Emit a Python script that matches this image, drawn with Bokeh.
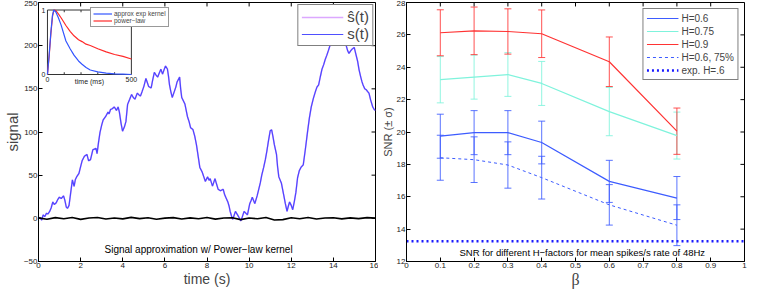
import numpy as np
from bokeh.plotting import figure
from bokeh.models import (Range1d, FixedTicker, Legend, LegendItem, Label,
                          Whisker, TeeHead, ColumnDataSource)
from bokeh.layouts import row
from bokeh.core.properties import value
from bokeh.embed import file_html
from bokeh.resources import INLINE

FONT = "Liberation Sans"

# ---------------- left panel data ----------------
time_s = [0.0, 0.07, 0.15, 0.22, 0.3, 0.38, 0.45, 0.53, 0.6, 0.68, 0.75, 0.84, 0.92, 0.99, 1.08, 1.19,
          1.25, 1.32, 1.38, 1.45, 1.52, 1.61, 1.69, 1.75, 1.81, 1.92, 2.0, 2.07, 2.18, 2.3, 2.38, 2.47,
          2.58, 2.73, 2.78, 2.85, 2.92, 3.0, 3.07, 3.19, 3.3, 3.35, 3.42, 3.5, 3.6, 3.7, 3.78, 3.84,
          3.92, 3.99, 4.08, 4.15, 4.23, 4.33, 4.42, 4.5, 4.58, 4.69, 4.77, 4.84, 4.92, 5.0, 5.1, 5.17,
          5.23, 5.35, 5.42, 5.5, 5.58, 5.66, 5.73, 5.81, 5.89, 5.96, 6.03, 6.12, 6.17, 6.22, 6.29, 6.35,
          6.45, 6.52, 6.58, 6.7, 6.75, 6.8, 6.95, 7.07, 7.15, 7.22, 7.33, 7.42, 7.5, 7.58, 7.66, 7.77,
          7.85, 7.92, 8.03, 8.1, 8.15, 8.26, 8.38, 8.45, 8.53, 8.64, 8.77, 8.83, 8.89, 8.99, 9.05, 9.1,
          9.16, 9.22, 9.28, 9.35, 9.45, 9.52, 9.61, 9.68, 9.76, 9.84, 9.92, 10.03, 10.1, 10.15, 10.27,
          10.38, 10.45, 10.53, 10.6, 10.69, 10.77, 10.84, 10.92, 11.0, 11.07, 11.13, 11.2, 11.3, 11.35,
          11.41, 11.53, 11.65, 11.72, 11.8, 11.86, 11.92, 12.0, 12.07, 12.15, 12.22, 12.3, 12.38, 12.46,
          12.57, 12.67, 12.77, 12.86, 12.95, 13.05, 13.15, 13.22, 13.3, 13.38, 13.46, 13.54, 13.61,
          13.69, 13.77, 13.85, 13.92, 14.0, 14.07, 14.15, 14.22, 14.3, 14.38, 14.46, 14.54, 14.61,
          14.68, 14.74, 14.82, 14.89, 14.99, 15.07, 15.15, 15.22, 15.3, 15.36, 15.41, 15.49, 15.56,
          15.62, 15.69, 15.77, 15.87, 15.94, 16.0]
signal = [0, 1, -2, 4, 2, 6, 5, 8, 12, 19, 16, 18, 22, 24.5, 23, 26,
          21, 13, 11.6, 15, 28, 44.6, 37, 45, 48, 52, 60, 66.6, 72, 74, 66.6, 68,
          79.4, 81, 75, 88, 99.6, 108, 114, 118, 123, 121, 126, 127, 129, 125, 129, 123,
          110, 101, 106, 112, 132, 138, 143.5, 140, 138, 145, 143, 141.6, 147, 152.6, 162, 157,
          152.6, 151, 160, 169, 166, 163.6, 168, 172.8, 167, 172, 176.5, 173, 165, 154.5, 146, 140,
          147, 152, 158, 163.6, 150, 140, 132.5, 118, 112, 105, 103, 95, 85, 72, 59, 53.7,
          48, 42.8, 48, 44, 46, 37.3, 46, 40, 33.6, 32, 33.6, 28, 24.5, 19, 14, 8,
          3, -1.2, 3, 8, 4, 1, -3, 2, 8, 6, 4, 17, 21, 24.5, 17,
          26, 33, 41, 50, 59, 68, 77.6, 90, 101.4, 102.5, 95, 85, 74, 60,
          48, 41, 26, 17, 8, 14, 19, 15, 10, 20, 30, 47, 55, 59,
          62, 80, 99.6, 116, 129, 139, 147, 152, 154.5, 164, 172.8, 178, 183.8,
          189, 194.8, 201, 207.6, 212, 215, 213, 207, 209, 205, 202, 203, 200,
          194, 191, 194, 196, 198, 190, 182, 172, 163.6, 158, 154.5, 150, 149,
          147, 145, 137, 129, 126, 125]
signal_hat = signal  # approximation is visually indistinguishable

resid_t = [0.0, 0.4, 0.8, 1.2, 1.6, 2.0, 2.4, 2.8, 3.2, 3.6, 4.0, 4.4, 4.8, 5.2, 5.6, 6.0, 6.4,
           6.8, 7.2, 7.6, 8.0, 8.4, 8.8, 9.2, 9.6, 10.0, 10.4, 10.8, 11.2, 11.6, 12.0, 12.4, 12.8,
           13.2, 13.6, 14.0, 14.4, 14.8, 15.2, 15.6, 16.0]
resid = [0.5, -1, 0.8, -0.5, 1, -1.2, 0.3, 0.9, -0.8, 0.4, -0.6, 1.1, -0.3, 0.6, -1, 0.2, 0.8,
         -0.7, 0.5, -0.4, 1, -0.9, 0.3, 0.7, -1.5, 0.4, -0.5, 0.9, -2, -1.5, 0.6, -0.4, 1,
         -0.8, 0.3, 0.7, -0.6, 0.5, -0.3, 0.8, 0.2]

x_lim_l = [0, 16]
y_lim_l = [-50, 250]
x_ticks_l = [0, 2, 4, 6, 8, 10, 12, 14, 16]
y_ticks_l = [-50, 0, 50, 100, 150, 200, 250]

# inset (kernels)
kernel_t = [0, 10, 20, 30, 38, 50, 65, 81, 110, 135, 158, 185, 206, 230, 255, 300, 350, 400, 450, 500]
kernel_exp = [0, 0.3, 0.65, 0.92, 1.0, 0.97, 0.88, 0.77, 0.52, 0.4, 0.3, 0.21, 0.16, 0.11, 0.07,
              0.04, 0.02, 0.01, 0.005, 0.0]
kernel_pow = [0, 0.28, 0.62, 0.9, 1.0, 0.99, 0.94, 0.88, 0.76, 0.67, 0.6, 0.54, 0.51, 0.47, 0.45,
              0.4, 0.35, 0.31, 0.28, 0.24]
inset_xlim = [0, 500]
inset_ylim = [0, 1]
inset_xticks = [100, 200, 300, 400]

# ---------------- right panel data ----------------
beta = [0.1, 0.2, 0.3, 0.4, 0.6, 0.8]
snr_h06 = [19.74, 19.96, 19.96, 19.35, 16.95, 15.92]
err_h06 = [1.36, 1.36, 1.36, 1.32, 1.30, 1.33]
snr_h075 = [23.23, 23.39, 23.55, 23.0, 21.26, 19.78]
err_h075 = [1.43, 1.36, 1.35, 1.36, 1.49, 1.45]
snr_h09 = [26.13, 26.25, 26.21, 26.07, 24.34, 20.05]
err_h09 = [1.42, 1.47, 1.40, 1.47, 1.53, 1.43]
snr_h06_75 = [18.41, 18.29, 17.96, 17.18, 15.5, 14.24]
err_h06_75 = [1.39, 1.41, 1.43, 1.32, 1.25, 1.26]
snr_exp = 13.25
beta_lim = [0, 1]
snr_lim = [12, 28]
x_ticks_r = [0, 0.1, 0.2, 0.3, 0.4, 0.5, 0.6, 0.7, 0.8, 0.9, 1]
x_labels_r = ["0", "0.1", "0.2", "0.3", "0.4", "0.5", "0.6", "0.7", "0.8", "0.9", "1"]
y_ticks_r = [12, 14, 16, 18, 20, 22, 24, 26, 28]


def style_axes(p, xt, yt):
    p.outline_line_color = "black"
    p.outline_line_width = 1
    p.xgrid.visible = False
    p.ygrid.visible = False
    p.background_fill_color = "white"
    p.border_fill_color = "white"
    for ax, t in ((p.xaxis[0], xt), (p.yaxis[0], yt)):
        ax.ticker = FixedTicker(ticks=t)
        ax.major_tick_in = 4
        ax.major_tick_out = 0
        ax.minor_tick_line_color = None
        ax.axis_line_color = "black"
        ax.major_tick_line_color = "black"
        ax.major_label_text_font = FONT
        ax.major_label_text_font_size = "8px"
        ax.major_label_text_color = "#222222"
        ax.major_label_standoff = 1
        ax.axis_label_text_font = FONT
        ax.axis_label_text_font_style = "normal"
        ax.axis_label_standoff = 0


def box_ticks(p, xt, yt, xl, yl, fw, fh, L=4):
    # inward ticks on the top and right edges (MATLAB "box on")
    dx = (xl[1] - xl[0]) / fw * L
    dy = (yl[1] - yl[0]) / fh * L
    p.segment(x0=xt, y0=[yl[1]] * len(xt), x1=xt, y1=[yl[1] - dy] * len(xt),
              line_color="black", line_width=1)
    p.segment(x0=[xl[1]] * len(yt), y0=yt, x1=[xl[1] - dx] * len(yt), y1=yt,
              line_color="black", line_width=1)


# ---------------- left figure ----------------
pl = figure(width=378, height=290, output_backend="svg", toolbar_location=None,
            x_range=Range1d(*x_lim_l), y_range=Range1d(*y_lim_l),
            min_border_left=20, min_border_right=3, min_border_top=2, min_border_bottom=20)
style_axes(pl, x_ticks_l, y_ticks_l)
pl.xaxis[0].axis_label = "time (s)"
pl.yaxis[0].axis_label = "signal"
pl.xaxis[0].axis_label_text_font_size = "14px"
pl.yaxis[0].axis_label_text_font_size = "15px"
pl.yaxis[0].major_label_overrides = {-50: "\u221250"}
box_ticks(pl, x_ticks_l, y_ticks_l, x_lim_l, y_lim_l, 341, 262)

r_hat = pl.line(time_s, signal_hat, line_color="#c060ff", line_width=1.6, line_alpha=0.55)
r_s = pl.line(time_s, signal, line_color="#3c3cff", line_width=1.2, line_alpha=0.9)
pl.line(resid_t, resid, line_color="black", line_width=1.6)

pl.add_layout(Label(x=7.6, y=-36, text="Signal approximation w/ Power\u2212law kernel",
                    text_align="center", text_baseline="middle", text_font=FONT,
                    text_font_size="10px", text_color="black"))

# inset: placed via extra ranges so that its data occupies a sub-rectangle of the frame
INSET_FX = (0.0266, 0.2756)
INSET_FY = (0.722, 0.971)
sx = (inset_xlim[1] - inset_xlim[0]) / (INSET_FX[1] - INSET_FX[0])
sy = (inset_ylim[1] - inset_ylim[0]) / (INSET_FY[1] - INSET_FY[0])
pl.extra_x_ranges = {"ix": Range1d(inset_xlim[0] - INSET_FX[0] * sx,
                                   inset_xlim[0] + (1 - INSET_FX[0]) * sx)}
pl.extra_y_ranges = {"iy": Range1d(inset_ylim[0] - INSET_FY[0] * sy,
                                   inset_ylim[0] + (1 - INSET_FY[0]) * sy)}
kw = dict(x_range_name="ix", y_range_name="iy")
pl.quad(left=[inset_xlim[0]], right=[inset_xlim[1]], bottom=[inset_ylim[0]], top=[inset_ylim[1]],
        fill_color="white", line_color="#333333", line_width=1, **kw)
pl.segment(x0=inset_xticks, y0=[inset_ylim[0]] * 4, x1=inset_xticks, y1=[inset_ylim[0] + 0.035] * 4,
           line_color="#333333", **kw)
pl.segment(x0=inset_xticks, y0=[inset_ylim[1]] * 4, x1=inset_xticks, y1=[inset_ylim[1] - 0.035] * 4,
           line_color="#333333", **kw)
r_pow = pl.line(kernel_t, kernel_pow, line_color="#ff2a2a", line_width=1.2, **kw)
r_exp = pl.line(kernel_t, kernel_exp, line_color="#3355ff", line_width=1.2, **kw)
pl.text(x=inset_xlim, y=[inset_ylim[0]] * 2, text=["0", "500"], text_align="center",
        text_baseline="top", y_offset=2, text_font=value(FONT), text_font_size="7px",
        text_color="#222222", **kw)
pl.text(x=[inset_xlim[0]] * 2, y=inset_ylim, text=["0", "1"], text_align="right",
        text_baseline="middle", x_offset=-2, text_font=value(FONT), text_font_size="7px",
        text_color="#222222", **kw)
pl.text(x=[sum(inset_xlim) / 2], y=[inset_ylim[0]], text=["time (ms)"], text_align="center",
        text_baseline="top", y_offset=3, text_font=value(FONT), text_font_size="7px",
        text_color="#222222", **kw)

inset_leg = Legend(items=[LegendItem(label="approx exp kernel", renderers=[r_exp]),
                          LegendItem(label="power\u2212law", renderers=[r_pow])],
                   location=(52, 234), label_text_font=FONT, label_text_font_size="6.5px",
                   label_height=7, glyph_height=7, glyph_width=19, spacing=0, padding=2,
                   margin=0, label_standoff=2, border_line_color="#333333",
                   background_fill_alpha=1.0)
pl.add_layout(inset_leg, "center")

main_leg = Legend(items=[LegendItem(label="\u015d(t)", renderers=[r_hat]),
                         LegendItem(label="s(t)", renderers=[r_s])],
                  location="top_right", label_text_font=FONT, label_text_font_size="15px",
                  label_height=16, glyph_height=16, glyph_width=42, spacing=0, padding=3,
                  margin=2, label_standoff=4, border_line_color="black",
                  background_fill_alpha=1.0)
pl.add_layout(main_leg, "center")

# ---------------- right figure ----------------
pr = figure(width=369, height=290, output_backend="svg", toolbar_location=None,
            x_range=Range1d(*beta_lim), y_range=Range1d(*snr_lim),
            min_border_left=20, min_border_right=3, min_border_top=2, min_border_bottom=20)
style_axes(pr, x_ticks_r, y_ticks_r)
pr.xaxis[0].major_label_overrides = {t: l for t, l in zip(x_ticks_r, x_labels_r)}
pr.xaxis[0].axis_label = "\u03b2"
pr.xaxis[0].axis_label_text_font = "Liberation Serif"
pr.xaxis[0].axis_label_text_font_size = "16px"
pr.yaxis[0].axis_label = "SNR (\u00b1 \u03c3)"
pr.yaxis[0].axis_label_text_font_size = "11px"
box_ticks(pr, x_ticks_r, y_ticks_r, beta_lim, snr_lim, 334, 262)

C_BLUE = "#3d5cff"
C_CYAN = "#7ff3dc"
C_RED = "#ff3333"
series = [("H=0.6", snr_h06, err_h06, C_BLUE, None),
          ("H=0.75", snr_h075, err_h075, C_CYAN, None),
          ("H=0.9", snr_h09, err_h09, C_RED, None),
          ("H=0.6, 75%", snr_h06_75, err_h06_75, C_BLUE, "3 3")]
items = []
for name, y, e, c, dash in series:
    y = np.array(y)
    e = np.array(e)
    src = ColumnDataSource(dict(b=beta, y=y, up=y + e, lo=y - e))
    pr.add_layout(Whisker(source=src, base="b", upper="up", lower="lo", line_color=c,
                          line_width=1, line_alpha=0.85,
                          upper_head=TeeHead(size=7, line_color=c, line_alpha=0.85),
                          lower_head=TeeHead(size=7, line_color=c, line_alpha=0.85)))
    if dash:
        r = pr.line("b", "y", source=src, line_color=c, line_width=1, line_dash=dash)
    else:
        r = pr.line("b", "y", source=src, line_color=c, line_width=1.2)
    items.append(LegendItem(label=name, renderers=[r]))
r_expl = pr.line(beta_lim, [snr_exp] * 2, line_color="#1a1aff", line_width=2.5, line_dash="2 3")
items.append(LegendItem(label="exp. H=.6", renderers=[r_expl]))

pr.add_layout(Label(x=0.52, y=12.55, text="SNR for different H\u2212factors for mean spikes/s rate of 48Hz",
                    text_align="center", text_baseline="middle", text_font=FONT,
                    text_font_size="9.5px", text_color="black"))

right_leg = Legend(items=items, location="top_right", label_text_font=FONT,
                   label_text_font_size="10px", label_height=12, glyph_height=12,
                   glyph_width=32, spacing=1, padding=3, margin=6, label_standoff=3,
                   border_line_color="black", background_fill_alpha=1.0)
pr.add_layout(right_leg, "center")

layout = row(pl, pr)
open("out.html", "w").write(file_html(layout, INLINE))
